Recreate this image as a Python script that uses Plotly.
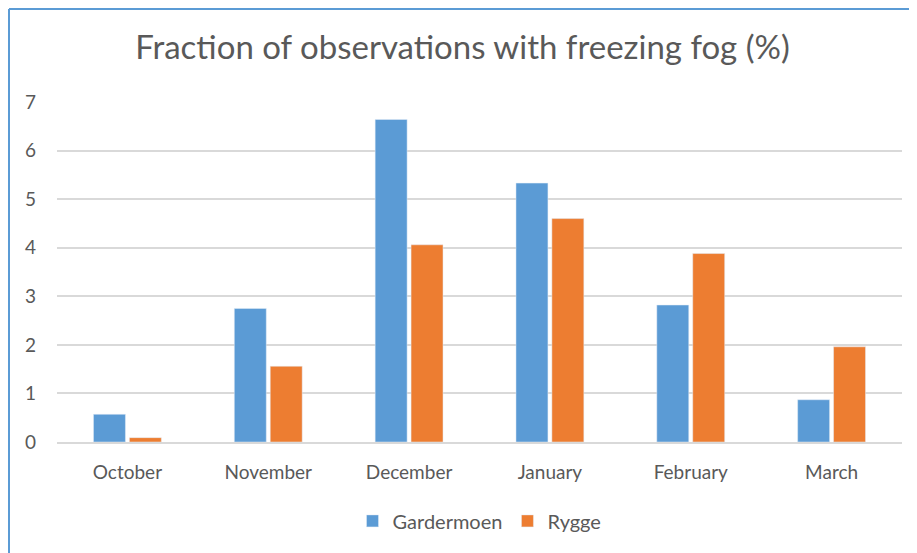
import plotly.graph_objects as go

months = ["October", "November", "December", "January", "February", "March"]
gardermoen = [0.57, 2.75, 6.64, 5.33, 2.82, 0.87]
rygge = [0.09, 1.56, 4.06, 4.60, 3.88, 1.96]
y_ticks = [0, 1, 2, 3, 4, 5, 6, 7]

font = "Lato, 'Open Sans', sans-serif"
grey = "#595959"

# page body adds an 8px offset, so the figure is sized to fill the rest of the window
W, H = 909, 545
L, T, PW, PH = 49, 94, 845, 340

fig = go.Figure()
fig.add_bar(x=months, y=gardermoen, name="Gardermoen", marker_color="#5b9bd5")
fig.add_bar(x=months, y=rygge, name="Rygge", marker_color="#ed7d31")

fig.update_layout(
    width=W,
    height=H,
    margin=dict(l=L, r=W - L - PW, t=T, b=H - T - PH, autoexpand=False),
    paper_bgcolor="white",
    plot_bgcolor="white",
    barmode="group",
    bargap=0.49,
    bargroupgap=0.11,
    font=dict(family=font, color=grey, size=19),
    title=dict(
        text="Fraction of observations with freezing fog (%)",
        x=0.5, xanchor="center", y=0.927, yanchor="middle",
        font=dict(family=font, size=33, color=grey),
    ),
    legend=dict(
        orientation="h", x=0.5, xanchor="center", y=-0.232, yanchor="middle",
        font=dict(size=20, color=grey), itemwidth=30,
    ),
    showlegend=True,
)
fig.update_yaxes(
    range=[0, 7], tickvals=y_ticks, showgrid=True, gridcolor="#d9d9d9",
    gridwidth=1.5, zeroline=False, showline=False, ticks="", ticklabelstandoff=20,
    tickfont=dict(size=19, color=grey),
)
fig.update_xaxes(
    showline=True, linecolor="#d9d9d9", linewidth=1.5, ticks="",
    tickfont=dict(size=19, color=grey), ticklabelstandoff=12,
)

# blue frame on top and left edges
top = 1 + (T - 1) / PH
left = (1 - L) / PW
fig.add_shape(type="line", xref="paper", yref="paper",
              x0=left, x1=(W - L) / PW, y0=top, y1=top,
              line=dict(color="#5b9bd5", width=2))
fig.add_shape(type="line", xref="paper", yref="paper",
              x0=left, x1=left, y0=top, y1=-(H - T - PH) / PH,
              line=dict(color="#5b9bd5", width=2))

fig.write_html("out.html")
